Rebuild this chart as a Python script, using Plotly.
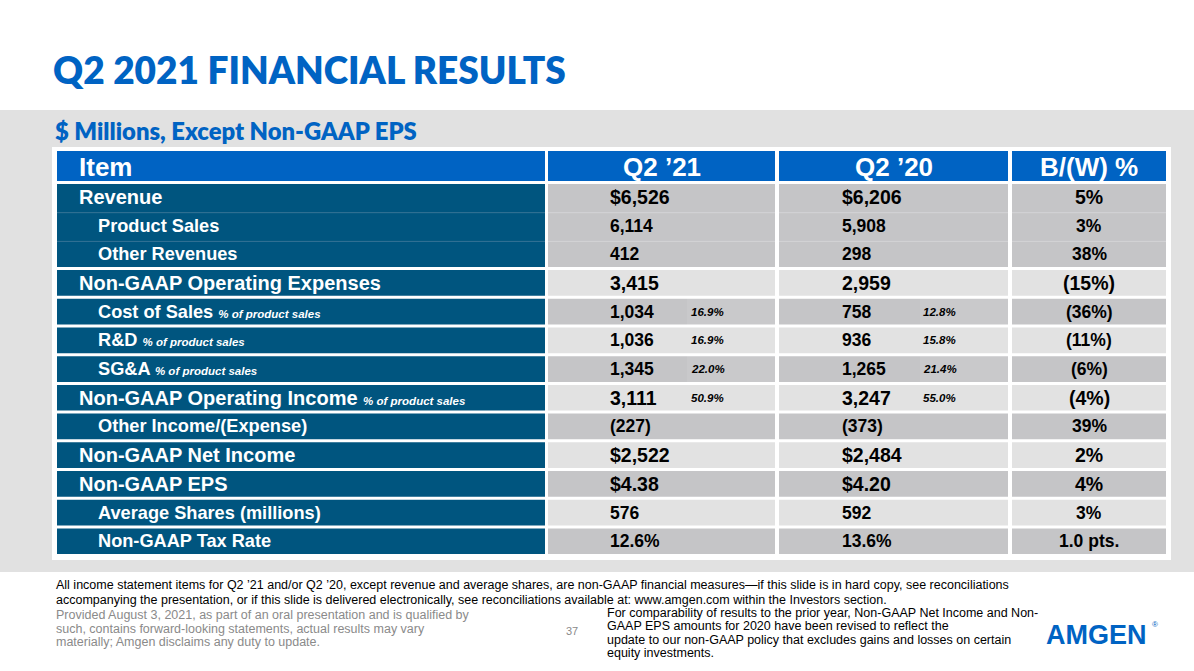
import plotly.graph_objects as go

# table content
items = ["Revenue", "Product Sales", "Other Revenues", "Non-GAAP Operating Expenses",
         "Cost of Sales", "R&D", "SG&A", "Non-GAAP Operating Income",
         "Other Income/(Expense)", "Non-GAAP Net Income", "Non-GAAP EPS",
         "Average Shares (millions)", "Non-GAAP Tax Rate"]
levels = [0, 1, 1, 0, 1, 1, 1, 0, 1, 0, 0, 1, 1]
pct_note = [False, False, False, False, True, True, True, True, False, False, False, False, False]
q2_21 = ["$6,526", "6,114", "412", "3,415", "1,034", "1,036", "1,345", "3,111",
         "(227)", "$2,522", "$4.38", "576", "12.6%"]
q2_21_pct = ["", "", "", "", "16.9%", "16.9%", "22.0%", "50.9%", "", "", "", "", ""]
q2_20 = ["$6,206", "5,908", "298", "2,959", "758", "936", "1,265", "3,247",
         "(373)", "$2,484", "$4.20", "592", "13.6%"]
q2_20_pct = ["", "", "", "", "12.8%", "15.8%", "21.4%", "55.0%", "", "", "", "", ""]
bw_pct = ["5%", "3%", "38%", "(15%)", "(36%)", "(11%)", "(6%)", "(4%)",
          "39%", "2%", "4%", "3%", "1.0 pts."]
headers = ["Item", "Q2 \u201921", "Q2 \u201920", "B/(W) %"]

title = "Q2 2021 FINANCIAL RESULTS"
subtitle = "$ Millions, Except Non-GAAP EPS"
footnote = ["All income statement items for Q2 \u201921 and/or Q2 \u201920, except revenue and average shares, are non-GAAP financial measures\u2014if this slide is in hard copy, see reconciliations",
            "accompanying the presentation, or if this slide is delivered electronically, see reconciliations available at: www.amgen.com within the Investors section."]
disclaimer = ["Provided August 3, 2021, as part of an oral presentation and is qualified by",
              "such, contains forward-looking statements, actual results may vary",
              "materially; Amgen disclaims any duty to update."]
side_note = ["For comparability of results to the prior year, Non-GAAP Net Income and Non-",
             "GAAP EPS amounts for 2020 have been revised to reflect the",
             "update to our non-GAAP policy that excludes gains and losses on certain",
             "equity investments."]
page_no = "37"

BLUE = "#0063C3"
TEAL = "#00557F"
DARK = "#C5C5C7"
LIGHT = "#E2E2E2"
FONT = "Liberation Sans, Arial, sans-serif"

# column edges (pixel space)
col_item = (57, 545)
col_21 = (548, 775, 687)
col_20 = (779, 1008, 920)
col_bw = (1012, 1166)
head_top, head_bot = 151, 181
row0, pitch = 184, 28.7


def row_span(i):
    top = row0 + i * pitch
    bot = top + pitch - 3
    if i < 2:
        bot = top + pitch  # revenue group is one block
    return top, bot


fig = go.Figure()
fig.add_trace(go.Scatter(x=[], y=[], hoverinfo="skip"))
shapes = []
ann = []


def rect(x0, x1, y0, y1, color):
    shapes.append(dict(type="rect", xref="x", yref="y", x0=x0, x1=x1, y0=y0, y1=y1,
                       fillcolor=color, line=dict(width=0), layer="below"))


def text(x, y, s, size, color="black", anchor="left", weight="bold", family=FONT, style="normal"):
    ann.append(dict(x=x, y=y, xref="x", yref="y", text=s, showarrow=False,
                    xanchor=anchor, yanchor="middle", borderpad=0,
                    font=dict(size=size, color=color, family=family, weight=weight, style=style)))


# background band and white frame
rect(0, 1194, 110, 572, "#E1E1E1")
rect(52, 1171, 147, 560, "white")

# header
for (x0, x1), h in zip([col_item, col_21[:2], col_20[:2], col_bw], headers):
    rect(x0, x1, head_top, head_bot, BLUE)
hy = (head_top + head_bot) / 2 + 1
text(78, hy, headers[0], 26, "white")
text((col_21[0] + col_21[1]) / 2, hy, headers[1], 26, "white", "center")
text((col_20[0] + col_20[1]) / 2, hy, headers[2], 26, "white", "center")
text((col_bw[0] + col_bw[1]) / 2, hy, headers[3], 26, "white", "center")

# body rows
for i, name in enumerate(items):
    y0, y1 = row_span(i)
    yc = (row0 + i * pitch + row0 + i * pitch + pitch - 3) / 2
    shade = DARK if (i < 3 or (i - 3) % 2 == 1) else LIGHT
    sub = "#C9C9CB" if shade == DARK else LIGHT
    rect(col_item[0], col_item[1], y0, y1, TEAL)
    if pct_note[i]:
        rect(col_21[0], col_21[2], y0, y1, shade)
        rect(col_21[2], col_21[1], y0, y1, sub)
        rect(col_20[0], col_20[2], y0, y1, shade)
        rect(col_20[2], col_20[1], y0, y1, sub)
    else:
        rect(col_21[0], col_21[1], y0, y1, shade)
        rect(col_20[0], col_20[1], y0, y1, shade)
    rect(col_bw[0], col_bw[1], y0, y1, shade)
    if 0 < i < 3:
        # thin divider inside the revenue block
        shapes.append(dict(type="line", xref="x", yref="y", x0=col_item[0], x1=col_item[1],
                           y0=y0, y1=y0, line=dict(color="#2E6E92", width=1), layer="below"))
        for a, b in [col_21[:2], col_20[:2], col_bw]:
            shapes.append(dict(type="line", xref="x", yref="y", x0=a, x1=b,
                               y0=y0, y1=y0, line=dict(color="#D2D2D4", width=1), layer="below"))

    lab_size = 20 if levels[i] == 0 else 18.2
    val_size = 19.5 if levels[i] == 0 else 17.5
    label = name.replace("&", "&amp;")
    if pct_note[i]:
        label += " <span style='font-size:11.5px'><i>% of product sales</i></span>"
    text(78 if levels[i] == 0 else 97, yc, label, lab_size, "white")
    text(609, yc, q2_21[i], val_size)
    text(841, yc, q2_20[i], val_size)
    if q2_21_pct[i]:
        text(690, yc, q2_21_pct[i], 11.5, style="italic")
    if q2_20_pct[i]:
        text(922, yc, q2_20_pct[i], 11.5, style="italic")
    text((col_bw[0] + col_bw[1]) / 2, yc, bw_pct[i], val_size, anchor="center")

# titles
text(52, 69, title, 37, BLUE, family="Lato, Open Sans, sans-serif", weight=800)
text(54, 131, subtitle, 23.8, BLUE, family="Lato, Open Sans, sans-serif", weight=800)

# footer
NARROW = "Liberation Sans Narrow, Liberation Sans, Arial, sans-serif"
for k, line in enumerate(footnote):
    text(55, 585 + k * 15, line, 12.5, "black", family=NARROW, weight="normal")
for k, line in enumerate(disclaimer):
    text(55, 615 + k * 13.7, line, 12.5, "#8A8A8A", family=NARROW, weight="normal")
text(565, 631, page_no, 11, "#8A8A8A", family=NARROW, weight="normal")
for k, line in enumerate(side_note):
    text(606, 613 + k * 13.3, line, 12.5, "black", family=NARROW, weight="normal")
text(1045, 635, "AMGEN", 27, BLUE, family="Liberation Sans, Arial, sans-serif", weight=900)
text(1151, 624, "\u00ae", 8, BLUE, family="Liberation Sans, Arial, sans-serif", weight="normal")

fig.update_layout(
    width=1194, height=671,
    margin=dict(l=0, r=0, t=0, b=0),
    paper_bgcolor="white", plot_bgcolor="white",
    xaxis=dict(range=[0, 1194], visible=False, fixedrange=True),
    yaxis=dict(range=[671, 0], visible=False, fixedrange=True),
    showlegend=False,
    shapes=shapes,
    annotations=ann,
)

fig.write_html("out.html", config={"displayModeBar": False},
               post_script="document.body.style.margin='0';")
